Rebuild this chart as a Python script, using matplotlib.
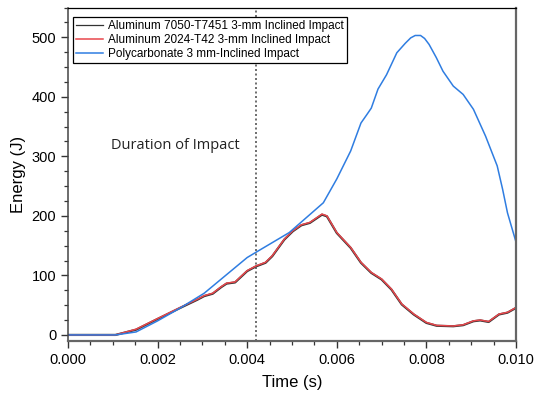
import numpy as np
import matplotlib.pyplot as plt
from matplotlib.ticker import MultipleLocator

# time (s) and energy (J) samples for each test
t_al = [0.0, 0.0005, 0.00106, 0.00152, 0.0020, 0.0025, 0.00289, 0.00304, 0.00323,
        0.00342, 0.00354, 0.00373, 0.0040, 0.0042, 0.00441, 0.00456, 0.00483,
        0.00502, 0.00521, 0.0054, 0.00567, 0.00578, 0.0060, 0.00631, 0.00654,
        0.00677, 0.0070, 0.00722, 0.00745, 0.00772, 0.0080, 0.00823, 0.0086,
        0.00882, 0.00905, 0.0092, 0.00939, 0.00962, 0.00981, 0.0100]
e_al7050 = [0, 0, 0, 8.8, 26.8, 45.2, 59.2, 65.2, 69.2, 80.2, 86.2, 88.2, 107.2,
            115.2, 121.2, 132.2, 160.2, 174.2, 184.2, 188.2, 202.0, 199.2, 171.2,
            146.2, 121.2, 104.2, 93.2, 76.2, 51.2, 34.2, 20.2, 15.4, 14.6, 16.4,
            23.0, 24.4, 21.8, 34.4, 37.4, 45.4]
e_al2024 = [0, 0, 0, 9.6, 27.5, 46, 60, 66, 70, 81, 87, 89, 108, 116, 122, 133,
            161, 175, 185, 189, 203, 200, 172, 147, 122, 105, 94, 77, 52, 35, 21,
            16, 15, 17, 23.6, 25, 22.5, 35, 38, 46]

t_pc = [0.0, 0.0005, 0.00106, 0.00152, 0.0020, 0.0025, 0.00304, 0.0040, 0.0042,
        0.00494, 0.0057, 0.0060, 0.00631, 0.00654, 0.00667, 0.00677, 0.00692,
        0.00711, 0.00734, 0.00753, 0.00765, 0.00775, 0.00787, 0.00796, 0.00806,
        0.00822, 0.00837, 0.0086, 0.00882, 0.00905, 0.00932, 0.00958, 0.0097,
        0.00981, 0.0100]
e_pc = [0, 0, 0, 5, 23.6, 45, 70, 130, 139, 172, 222, 262, 309, 356, 370, 381,
        413, 437, 474, 490, 499, 503, 503, 498, 488, 466, 443, 418, 404, 379,
        334, 284, 245, 205, 156]

impact_end = 0.0042

fig = plt.figure(figsize=(5.35, 3.95), dpi=100)
ax = fig.add_axes([0.127, 0.137, 0.8375, 0.844])

ax.plot(t_al, e_al7050, color="#333333", lw=1.6,
        label="Aluminum 7050-T7451 3-mm Inclined Impact")
ax.plot(t_al, e_al2024, color="#e8474c", lw=1.1,
        label="Aluminum 2024-T42 3-mm Inclined Impact")
ax.plot(t_pc, e_pc, color="#2f7de1", lw=1.1,
        label="Polycarbonate 3 mm-Inclined Impact")

ax.axvline(impact_end, color="#555555", ls=(0, (1.2, 1.5)), lw=1.2)
ax.text(0.0024, 318, "Duration of Impact", fontsize=10.5,
        family="Open Sans", ha="center", va="center", color="#222222")

ax.set_xlim(0, 0.010)
ax.set_ylim(-10, 550)
ax.xaxis.set_major_locator(MultipleLocator(0.002))
ax.xaxis.set_minor_locator(MultipleLocator(0.0005))
ax.yaxis.set_major_locator(MultipleLocator(100))
ax.yaxis.set_minor_locator(MultipleLocator(25))
ax.set_xticklabels([f"{v:.3f}" for v in ax.get_xticks()])

ax.tick_params(which="both", direction="out", colors="#333333",
               labelcolor="black", labelsize=10.5)
ax.tick_params(which="major", length=5, width=1.0)
ax.tick_params(which="minor", length=3, width=0.9)

for side in ["bottom", "right"]:
    ax.spines[side].set_linewidth(1.6)
    ax.spines[side].set_color("#666666")
ax.spines["left"].set_linewidth(1.1)
ax.spines["left"].set_color("#444444")
ax.spines["top"].set_linewidth(0.9)
ax.spines["top"].set_color("black")

ax.set_xlabel("Time (s)", fontsize=12, family="Liberation Sans", labelpad=6)
ax.set_ylabel("Energy (J)", fontsize=12, family="Liberation Sans", labelpad=4)
for lab in ax.get_xticklabels() + ax.get_yticklabels():
    lab.set_family("Liberation Sans")

leg = ax.legend(loc="upper left", bbox_to_anchor=(0.012, 0.972),
                prop={"family": "Liberation Sans", "size": 8.5},
                fancybox=False, edgecolor="black", framealpha=1,
                handlelength=2.3, handletextpad=0.4, borderpad=0.25,
                labelspacing=0.18, borderaxespad=0)
leg.get_frame().set_linewidth(0.9)
leg.get_lines()[0].set_linewidth(0.9)

fig.savefig("out.png", dpi=100)
